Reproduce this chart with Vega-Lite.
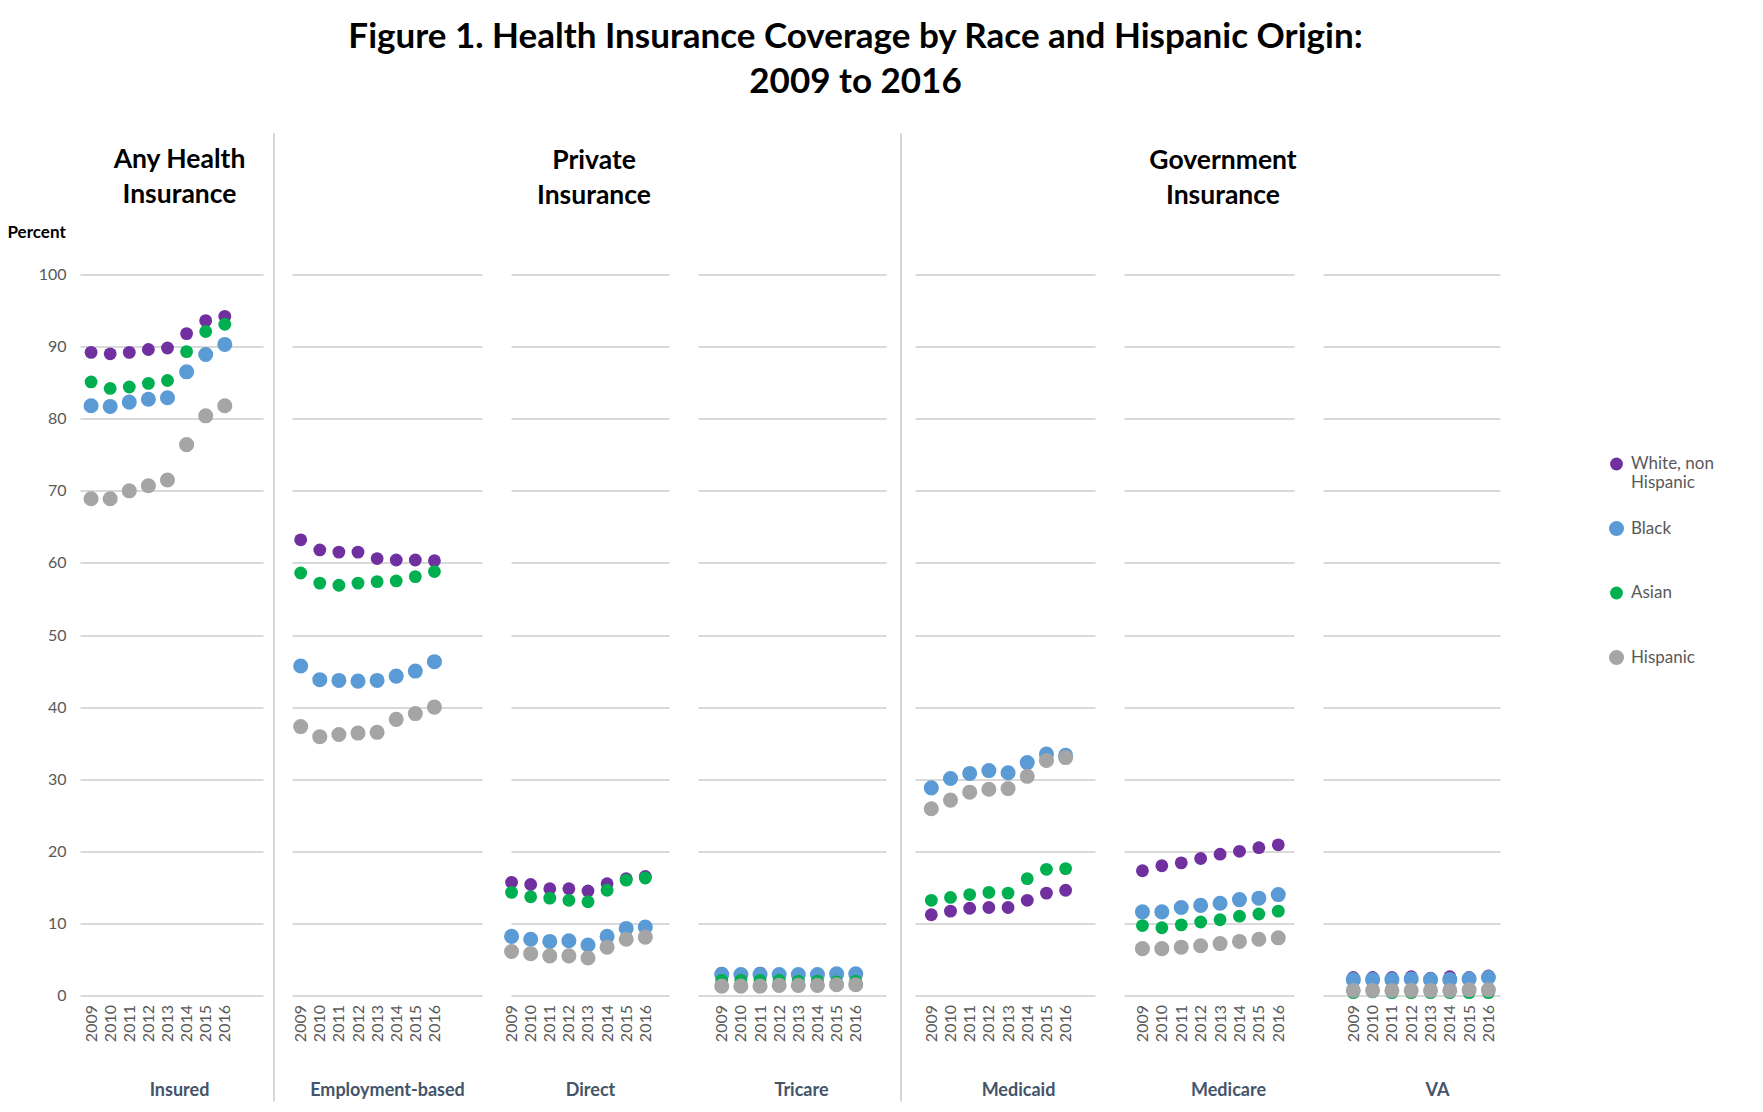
{
"$schema": "https://vega.github.io/schema/vega-lite/v6.json",
"padding": {"left": 7, "top": 19.5, "right": 5, "bottom": 5},
"autosize": {"type": "pad"},
"title": {"text": ["Figure 1. Health Insurance Coverage by Race and Hispanic Origin:", "2009 to 2016"], "fontSize": 35, "font": "Lato", "fontWeight": "bold", "color": "#000000", "lineHeight": 45, "anchor": "middle", "offset": 32, "dx": -5},
"data": {"values": [
{"type":"Insured","race":"White, non Hispanic","year":2009,"pct":89.2},{"type":"Insured","race":"White, non Hispanic","year":2010,"pct":89.0},{"type":"Insured","race":"White, non Hispanic","year":2011,"pct":89.2},{"type":"Insured","race":"White, non Hispanic","year":2012,"pct":89.6},{"type":"Insured","race":"White, non Hispanic","year":2013,"pct":89.8},{"type":"Insured","race":"White, non Hispanic","year":2014,"pct":91.8},{"type":"Insured","race":"White, non Hispanic","year":2015,"pct":93.6},{"type":"Insured","race":"White, non Hispanic","year":2016,"pct":94.2},
{"type":"Insured","race":"Black","year":2009,"pct":81.8},{"type":"Insured","race":"Black","year":2010,"pct":81.7},{"type":"Insured","race":"Black","year":2011,"pct":82.3},{"type":"Insured","race":"Black","year":2012,"pct":82.7},{"type":"Insured","race":"Black","year":2013,"pct":82.9},{"type":"Insured","race":"Black","year":2014,"pct":86.5},{"type":"Insured","race":"Black","year":2015,"pct":88.9},{"type":"Insured","race":"Black","year":2016,"pct":90.3},
{"type":"Insured","race":"Asian","year":2009,"pct":85.1},{"type":"Insured","race":"Asian","year":2010,"pct":84.2},{"type":"Insured","race":"Asian","year":2011,"pct":84.4},{"type":"Insured","race":"Asian","year":2012,"pct":84.9},{"type":"Insured","race":"Asian","year":2013,"pct":85.3},{"type":"Insured","race":"Asian","year":2014,"pct":89.3},{"type":"Insured","race":"Asian","year":2015,"pct":92.1},{"type":"Insured","race":"Asian","year":2016,"pct":93.1},
{"type":"Insured","race":"Hispanic","year":2009,"pct":68.9},{"type":"Insured","race":"Hispanic","year":2010,"pct":68.9},{"type":"Insured","race":"Hispanic","year":2011,"pct":70.0},{"type":"Insured","race":"Hispanic","year":2012,"pct":70.7},{"type":"Insured","race":"Hispanic","year":2013,"pct":71.5},{"type":"Insured","race":"Hispanic","year":2014,"pct":76.4},{"type":"Insured","race":"Hispanic","year":2015,"pct":80.4},{"type":"Insured","race":"Hispanic","year":2016,"pct":81.8},
{"type":"Employment-based","race":"White, non Hispanic","year":2009,"pct":63.2},{"type":"Employment-based","race":"White, non Hispanic","year":2010,"pct":61.8},{"type":"Employment-based","race":"White, non Hispanic","year":2011,"pct":61.5},{"type":"Employment-based","race":"White, non Hispanic","year":2012,"pct":61.5},{"type":"Employment-based","race":"White, non Hispanic","year":2013,"pct":60.6},{"type":"Employment-based","race":"White, non Hispanic","year":2014,"pct":60.4},{"type":"Employment-based","race":"White, non Hispanic","year":2015,"pct":60.4},{"type":"Employment-based","race":"White, non Hispanic","year":2016,"pct":60.3},
{"type":"Employment-based","race":"Black","year":2009,"pct":45.7},{"type":"Employment-based","race":"Black","year":2010,"pct":43.8},{"type":"Employment-based","race":"Black","year":2011,"pct":43.7},{"type":"Employment-based","race":"Black","year":2012,"pct":43.6},{"type":"Employment-based","race":"Black","year":2013,"pct":43.7},{"type":"Employment-based","race":"Black","year":2014,"pct":44.3},{"type":"Employment-based","race":"Black","year":2015,"pct":45.0},{"type":"Employment-based","race":"Black","year":2016,"pct":46.3},
{"type":"Employment-based","race":"Asian","year":2009,"pct":58.6},{"type":"Employment-based","race":"Asian","year":2010,"pct":57.2},{"type":"Employment-based","race":"Asian","year":2011,"pct":56.9},{"type":"Employment-based","race":"Asian","year":2012,"pct":57.2},{"type":"Employment-based","race":"Asian","year":2013,"pct":57.4},{"type":"Employment-based","race":"Asian","year":2014,"pct":57.5},{"type":"Employment-based","race":"Asian","year":2015,"pct":58.1},{"type":"Employment-based","race":"Asian","year":2016,"pct":58.8},
{"type":"Employment-based","race":"Hispanic","year":2009,"pct":37.3},{"type":"Employment-based","race":"Hispanic","year":2010,"pct":35.9},{"type":"Employment-based","race":"Hispanic","year":2011,"pct":36.2},{"type":"Employment-based","race":"Hispanic","year":2012,"pct":36.4},{"type":"Employment-based","race":"Hispanic","year":2013,"pct":36.5},{"type":"Employment-based","race":"Hispanic","year":2014,"pct":38.3},{"type":"Employment-based","race":"Hispanic","year":2015,"pct":39.1},{"type":"Employment-based","race":"Hispanic","year":2016,"pct":40.0},
{"type":"Direct","race":"White, non Hispanic","year":2009,"pct":15.7},{"type":"Direct","race":"White, non Hispanic","year":2010,"pct":15.4},{"type":"Direct","race":"White, non Hispanic","year":2011,"pct":14.8},{"type":"Direct","race":"White, non Hispanic","year":2012,"pct":14.8},{"type":"Direct","race":"White, non Hispanic","year":2013,"pct":14.5},{"type":"Direct","race":"White, non Hispanic","year":2014,"pct":15.5},{"type":"Direct","race":"White, non Hispanic","year":2015,"pct":16.2},{"type":"Direct","race":"White, non Hispanic","year":2016,"pct":16.5},
{"type":"Direct","race":"Black","year":2009,"pct":8.2},{"type":"Direct","race":"Black","year":2010,"pct":7.8},{"type":"Direct","race":"Black","year":2011,"pct":7.5},{"type":"Direct","race":"Black","year":2012,"pct":7.6},{"type":"Direct","race":"Black","year":2013,"pct":7.0},{"type":"Direct","race":"Black","year":2014,"pct":8.2},{"type":"Direct","race":"Black","year":2015,"pct":9.3},{"type":"Direct","race":"Black","year":2016,"pct":9.5},
{"type":"Direct","race":"Asian","year":2009,"pct":14.3},{"type":"Direct","race":"Asian","year":2010,"pct":13.7},{"type":"Direct","race":"Asian","year":2011,"pct":13.5},{"type":"Direct","race":"Asian","year":2012,"pct":13.2},{"type":"Direct","race":"Asian","year":2013,"pct":13.0},{"type":"Direct","race":"Asian","year":2014,"pct":14.6},{"type":"Direct","race":"Asian","year":2015,"pct":16.0},{"type":"Direct","race":"Asian","year":2016,"pct":16.3},
{"type":"Direct","race":"Hispanic","year":2009,"pct":6.1},{"type":"Direct","race":"Hispanic","year":2010,"pct":5.8},{"type":"Direct","race":"Hispanic","year":2011,"pct":5.5},{"type":"Direct","race":"Hispanic","year":2012,"pct":5.5},{"type":"Direct","race":"Hispanic","year":2013,"pct":5.2},{"type":"Direct","race":"Hispanic","year":2014,"pct":6.7},{"type":"Direct","race":"Hispanic","year":2015,"pct":7.8},{"type":"Direct","race":"Hispanic","year":2016,"pct":8.1},
{"type":"Tricare","race":"White, non Hispanic","year":2009,"pct":3.1},{"type":"Tricare","race":"White, non Hispanic","year":2010,"pct":2.8},{"type":"Tricare","race":"White, non Hispanic","year":2011,"pct":3.1},{"type":"Tricare","race":"White, non Hispanic","year":2012,"pct":2.9},{"type":"Tricare","race":"White, non Hispanic","year":2013,"pct":2.8},{"type":"Tricare","race":"White, non Hispanic","year":2014,"pct":2.9},{"type":"Tricare","race":"White, non Hispanic","year":2015,"pct":2.9},{"type":"Tricare","race":"White, non Hispanic","year":2016,"pct":3.0},
{"type":"Tricare","race":"Black","year":2009,"pct":2.9},{"type":"Tricare","race":"Black","year":2010,"pct":2.9},{"type":"Tricare","race":"Black","year":2011,"pct":2.9},{"type":"Tricare","race":"Black","year":2012,"pct":2.9},{"type":"Tricare","race":"Black","year":2013,"pct":2.9},{"type":"Tricare","race":"Black","year":2014,"pct":2.9},{"type":"Tricare","race":"Black","year":2015,"pct":3.0},{"type":"Tricare","race":"Black","year":2016,"pct":3.0},
{"type":"Tricare","race":"Asian","year":2009,"pct":2.1},{"type":"Tricare","race":"Asian","year":2010,"pct":2.1},{"type":"Tricare","race":"Asian","year":2011,"pct":2.1},{"type":"Tricare","race":"Asian","year":2012,"pct":2.1},{"type":"Tricare","race":"Asian","year":2013,"pct":2.0},{"type":"Tricare","race":"Asian","year":2014,"pct":2.0},{"type":"Tricare","race":"Asian","year":2015,"pct":1.9},{"type":"Tricare","race":"Asian","year":2016,"pct":2.0},
{"type":"Tricare","race":"Hispanic","year":2009,"pct":1.3},{"type":"Tricare","race":"Hispanic","year":2010,"pct":1.3},{"type":"Tricare","race":"Hispanic","year":2011,"pct":1.3},{"type":"Tricare","race":"Hispanic","year":2012,"pct":1.4},{"type":"Tricare","race":"Hispanic","year":2013,"pct":1.4},{"type":"Tricare","race":"Hispanic","year":2014,"pct":1.4},{"type":"Tricare","race":"Hispanic","year":2015,"pct":1.5},{"type":"Tricare","race":"Hispanic","year":2016,"pct":1.5},
{"type":"Medicaid","race":"White, non Hispanic","year":2009,"pct":11.2},{"type":"Medicaid","race":"White, non Hispanic","year":2010,"pct":11.7},{"type":"Medicaid","race":"White, non Hispanic","year":2011,"pct":12.1},{"type":"Medicaid","race":"White, non Hispanic","year":2012,"pct":12.2},{"type":"Medicaid","race":"White, non Hispanic","year":2013,"pct":12.2},{"type":"Medicaid","race":"White, non Hispanic","year":2014,"pct":13.2},{"type":"Medicaid","race":"White, non Hispanic","year":2015,"pct":14.2},{"type":"Medicaid","race":"White, non Hispanic","year":2016,"pct":14.6},
{"type":"Medicaid","race":"Black","year":2009,"pct":28.8},{"type":"Medicaid","race":"Black","year":2010,"pct":30.1},{"type":"Medicaid","race":"Black","year":2011,"pct":30.8},{"type":"Medicaid","race":"Black","year":2012,"pct":31.2},{"type":"Medicaid","race":"Black","year":2013,"pct":30.9},{"type":"Medicaid","race":"Black","year":2014,"pct":32.3},{"type":"Medicaid","race":"Black","year":2015,"pct":33.5},{"type":"Medicaid","race":"Black","year":2016,"pct":33.3},
{"type":"Medicaid","race":"Asian","year":2009,"pct":13.2},{"type":"Medicaid","race":"Asian","year":2010,"pct":13.6},{"type":"Medicaid","race":"Asian","year":2011,"pct":14.0},{"type":"Medicaid","race":"Asian","year":2012,"pct":14.3},{"type":"Medicaid","race":"Asian","year":2013,"pct":14.2},{"type":"Medicaid","race":"Asian","year":2014,"pct":16.2},{"type":"Medicaid","race":"Asian","year":2015,"pct":17.5},{"type":"Medicaid","race":"Asian","year":2016,"pct":17.6},
{"type":"Medicaid","race":"Hispanic","year":2009,"pct":25.9},{"type":"Medicaid","race":"Hispanic","year":2010,"pct":27.1},{"type":"Medicaid","race":"Hispanic","year":2011,"pct":28.2},{"type":"Medicaid","race":"Hispanic","year":2012,"pct":28.6},{"type":"Medicaid","race":"Hispanic","year":2013,"pct":28.7},{"type":"Medicaid","race":"Hispanic","year":2014,"pct":30.4},{"type":"Medicaid","race":"Hispanic","year":2015,"pct":32.6},{"type":"Medicaid","race":"Hispanic","year":2016,"pct":33.0},
{"type":"Medicare","race":"White, non Hispanic","year":2009,"pct":17.3},{"type":"Medicare","race":"White, non Hispanic","year":2010,"pct":18.0},{"type":"Medicare","race":"White, non Hispanic","year":2011,"pct":18.4},{"type":"Medicare","race":"White, non Hispanic","year":2012,"pct":19.0},{"type":"Medicare","race":"White, non Hispanic","year":2013,"pct":19.6},{"type":"Medicare","race":"White, non Hispanic","year":2014,"pct":20.0},{"type":"Medicare","race":"White, non Hispanic","year":2015,"pct":20.5},{"type":"Medicare","race":"White, non Hispanic","year":2016,"pct":20.9},
{"type":"Medicare","race":"Black","year":2009,"pct":11.6},{"type":"Medicare","race":"Black","year":2010,"pct":11.6},{"type":"Medicare","race":"Black","year":2011,"pct":12.2},{"type":"Medicare","race":"Black","year":2012,"pct":12.5},{"type":"Medicare","race":"Black","year":2013,"pct":12.8},{"type":"Medicare","race":"Black","year":2014,"pct":13.3},{"type":"Medicare","race":"Black","year":2015,"pct":13.5},{"type":"Medicare","race":"Black","year":2016,"pct":14.0},
{"type":"Medicare","race":"Asian","year":2009,"pct":9.7},{"type":"Medicare","race":"Asian","year":2010,"pct":9.4},{"type":"Medicare","race":"Asian","year":2011,"pct":9.8},{"type":"Medicare","race":"Asian","year":2012,"pct":10.2},{"type":"Medicare","race":"Asian","year":2013,"pct":10.5},{"type":"Medicare","race":"Asian","year":2014,"pct":11.0},{"type":"Medicare","race":"Asian","year":2015,"pct":11.3},{"type":"Medicare","race":"Asian","year":2016,"pct":11.7},
{"type":"Medicare","race":"Hispanic","year":2009,"pct":6.5},{"type":"Medicare","race":"Hispanic","year":2010,"pct":6.5},{"type":"Medicare","race":"Hispanic","year":2011,"pct":6.7},{"type":"Medicare","race":"Hispanic","year":2012,"pct":6.9},{"type":"Medicare","race":"Hispanic","year":2013,"pct":7.2},{"type":"Medicare","race":"Hispanic","year":2014,"pct":7.5},{"type":"Medicare","race":"Hispanic","year":2015,"pct":7.8},{"type":"Medicare","race":"Hispanic","year":2016,"pct":8.0},
{"type":"VA","race":"White, non Hispanic","year":2009,"pct":2.5},{"type":"VA","race":"White, non Hispanic","year":2010,"pct":2.5},{"type":"VA","race":"White, non Hispanic","year":2011,"pct":2.5},{"type":"VA","race":"White, non Hispanic","year":2012,"pct":2.6},{"type":"VA","race":"White, non Hispanic","year":2013,"pct":2.4},{"type":"VA","race":"White, non Hispanic","year":2014,"pct":2.6},{"type":"VA","race":"White, non Hispanic","year":2015,"pct":2.5},{"type":"VA","race":"White, non Hispanic","year":2016,"pct":2.7},
{"type":"VA","race":"Black","year":2009,"pct":2.2},{"type":"VA","race":"Black","year":2010,"pct":2.2},{"type":"VA","race":"Black","year":2011,"pct":2.2},{"type":"VA","race":"Black","year":2012,"pct":2.3},{"type":"VA","race":"Black","year":2013,"pct":2.2},{"type":"VA","race":"Black","year":2014,"pct":2.2},{"type":"VA","race":"Black","year":2015,"pct":2.3},{"type":"VA","race":"Black","year":2016,"pct":2.5},
{"type":"VA","race":"Asian","year":2009,"pct":0.4},{"type":"VA","race":"Asian","year":2010,"pct":0.5},{"type":"VA","race":"Asian","year":2011,"pct":0.4},{"type":"VA","race":"Asian","year":2012,"pct":0.4},{"type":"VA","race":"Asian","year":2013,"pct":0.4},{"type":"VA","race":"Asian","year":2014,"pct":0.4},{"type":"VA","race":"Asian","year":2015,"pct":0.4},{"type":"VA","race":"Asian","year":2016,"pct":0.4},
{"type":"VA","race":"Hispanic","year":2009,"pct":0.7},{"type":"VA","race":"Hispanic","year":2010,"pct":0.7},{"type":"VA","race":"Hispanic","year":2011,"pct":0.7},{"type":"VA","race":"Hispanic","year":2012,"pct":0.7},{"type":"VA","race":"Hispanic","year":2013,"pct":0.7},{"type":"VA","race":"Hispanic","year":2014,"pct":0.7},{"type":"VA","race":"Hispanic","year":2015,"pct":0.8},{"type":"VA","race":"Hispanic","year":2016,"pct":0.8}
]},
"spacing": 29,
"bounds": "flush",
"hconcat": [
{
 "width": 183, "height": 721,
 "title": {"text": ["Any Health", "Insurance"], "fontSize": 26.5, "lineHeight": 35, "fontWeight": "bold", "color": "#000000", "anchor": "middle", "offset": 15, "dx": 8},
 "transform": [{"filter": {"field": "type", "equal": "Insured"}}],
 "mark": {"type": "circle", "opacity": 1},
 "encoding": {
  "x": {"field": "year", "type": "quantitative", "scale": {"domain": [2008.42, 2018.0], "nice": false, "zero": false}, "axis": {"title": "Insured", "values": [2009,2010,2011,2012,2013,2014,2015,2016], "format": "d", "titleX": 99, "labelOverlap": false}},
  "y": {"field": "pct", "type": "quantitative", "scale": {"domain": [0, 100], "nice": false}, "axis": {"title": "Percent", "values": [0,10,20,30,40,50,60,70,80,90,100], "labelPadding": 14, "titleAngle": 0, "titleAlign": "left", "titleBaseline": "middle", "titleX": -73, "titleY": -42, "titleFontSize": 17, "titleFontWeight": "bold", "titleColor": "#000000"}},
  "color": {"field": "race", "type": "nominal", "scale": {"domain": ["White, non Hispanic", "Black", "Asian", "Hispanic"], "range": ["#7030A0", "#5B9BD5", "#00B050", "#A5A5A5"]}, "legend": {"title": null, "orient": "none", "legendX": 1528, "legendY": 181, "labelExpr": "datum.label == 'White, non Hispanic' ? ['White, non', 'Hispanic'] : [datum.label, '']", "encode": {"symbols": {"update": {"size": {"signal": "datum.value == 'Black' || datum.value == 'Hispanic' ? 95 : 66"}}}}}},
  "size": {"field": "race", "type": "nominal", "scale": {"type": "ordinal", "domain": ["White, non Hispanic", "Black", "Asian", "Hispanic"], "range": [165, 227, 165, 227]}, "legend": null}
 }
},
{
 "width": 190, "height": 721,
 "resolve": {"scale": {"x": "independent", "y": "independent"}, "axis": {"x": "independent", "y": "independent"}},
 "layer": [
 {
  "transform": [{"filter": {"field": "type", "equal": "Employment-based"}}],
  "mark": {"type": "circle", "opacity": 1},
  "encoding": {
   "x": {"field": "year", "type": "quantitative", "scale": {"domain": [2008.545, 2018.49], "nice": false, "zero": false}, "axis": {"title": "Employment-based", "values": [2009,2010,2011,2012,2013,2014,2015,2016], "format": "d", "labelOverlap": false}},
   "y": {"field": "pct", "type": "quantitative", "scale": {"domain": [0, 100], "nice": false}, "axis": {"title": null, "labels": false, "values": [0,10,20,30,40,50,60,70,80,90,100]}},
   "color": {"field": "race", "type": "nominal", "scale": {"domain": ["White, non Hispanic", "Black", "Asian", "Hispanic"], "range": ["#7030A0", "#5B9BD5", "#00B050", "#A5A5A5"]}},
   "size": {"field": "race", "type": "nominal", "scale": {"type": "ordinal", "domain": ["White, non Hispanic", "Black", "Asian", "Hispanic"], "range": [165, 227, 165, 227]}, "legend": null}
  }
 },
 {
  "data": {"values": [{}]},
  "mark": {"type": "rule", "color": "#C8C8C8", "strokeWidth": 1.5},
  "encoding": {"x": {"datum": 2007.6, "type": "quantitative", "scale": {"domain": [2008.545, 2018.49], "nice": false, "zero": false}, "axis": null}, "y": {"datum": 119.6, "type": "quantitative", "scale": {"domain": [0, 100], "nice": false}, "axis": null}, "y2": {"datum": -14.7}}
 }
 ]
},
{
 "width": 158, "height": 721,
 "title": {"text": ["Private", "Insurance"], "fontSize": 26.5, "lineHeight": 35, "fontWeight": "bold", "color": "#000000", "anchor": "middle", "offset": 65, "dx": 4},
 "transform": [{"filter": {"field": "type", "equal": "Direct"}}],
 "mark": {"type": "circle", "opacity": 1},
 "encoding": {
  "x": {"field": "year", "type": "quantitative", "scale": {"domain": [2008.97, 2017.24], "nice": false, "zero": false}, "axis": {"title": "Direct", "values": [2009,2010,2011,2012,2013,2014,2015,2016], "format": "d", "labelOverlap": false}},
  "y": {"field": "pct", "type": "quantitative", "scale": {"domain": [0, 100], "nice": false}, "axis": {"title": null, "labels": false, "values": [0,10,20,30,40,50,60,70,80,90,100]}},
  "color": {"field": "race", "type": "nominal", "scale": {"domain": ["White, non Hispanic", "Black", "Asian", "Hispanic"], "range": ["#7030A0", "#5B9BD5", "#00B050", "#A5A5A5"]}},
  "size": {"field": "race", "type": "nominal", "scale": {"type": "ordinal", "domain": ["White, non Hispanic", "Black", "Asian", "Hispanic"], "range": [165, 227, 165, 227]}, "legend": null}
 }
},
{
 "width": 188, "height": 721,
 "transform": [{"filter": {"field": "type", "equal": "Tricare"}}],
 "mark": {"type": "circle", "opacity": 1},
 "encoding": {
  "x": {"field": "year", "type": "quantitative", "scale": {"domain": [2007.76, 2017.58], "nice": false, "zero": false}, "axis": {"title": "Tricare", "values": [2009,2010,2011,2012,2013,2014,2015,2016], "format": "d", "titleX": 103, "labelOverlap": false}},
  "y": {"field": "pct", "type": "quantitative", "scale": {"domain": [0, 100], "nice": false}, "axis": {"title": null, "labels": false, "values": [0,10,20,30,40,50,60,70,80,90,100]}},
  "color": {"field": "race", "type": "nominal", "scale": {"domain": ["White, non Hispanic", "Black", "Asian", "Hispanic"], "range": ["#7030A0", "#5B9BD5", "#00B050", "#A5A5A5"]}},
  "size": {"field": "race", "type": "nominal", "scale": {"type": "ordinal", "domain": ["White, non Hispanic", "Black", "Asian", "Hispanic"], "range": [165, 227, 165, 227]}, "legend": null}
 }
},
{
 "width": 180, "height": 721,
 "resolve": {"scale": {"x": "independent", "y": "independent"}, "axis": {"x": "independent", "y": "independent"}},
 "layer": [
 {
  "transform": [{"filter": {"field": "type", "equal": "Medicaid"}}],
  "mark": {"type": "circle", "opacity": 1},
  "encoding": {
   "x": {"field": "year", "type": "quantitative", "scale": {"domain": [2008.15, 2017.53], "nice": false, "zero": false}, "axis": {"title": "Medicaid", "values": [2009,2010,2011,2012,2013,2014,2015,2016], "format": "d", "titleX": 103, "labelOverlap": false}},
   "y": {"field": "pct", "type": "quantitative", "scale": {"domain": [0, 100], "nice": false}, "axis": {"title": null, "labels": false, "values": [0,10,20,30,40,50,60,70,80,90,100]}},
   "color": {"field": "race", "type": "nominal", "scale": {"domain": ["White, non Hispanic", "Black", "Asian", "Hispanic"], "range": ["#7030A0", "#5B9BD5", "#00B050", "#A5A5A5"]}},
   "size": {"field": "race", "type": "nominal", "scale": {"type": "ordinal", "domain": ["White, non Hispanic", "Black", "Asian", "Hispanic"], "range": [165, 227, 165, 227]}, "legend": null}
  }
 },
 {
  "data": {"values": [{}]},
  "mark": {"type": "rule", "color": "#C8C8C8", "strokeWidth": 1.5},
  "encoding": {"x": {"datum": 2007.42, "type": "quantitative", "scale": {"domain": [2008.15, 2017.53], "nice": false, "zero": false}, "axis": null}, "y": {"datum": 119.6, "type": "quantitative", "scale": {"domain": [0, 100], "nice": false}, "axis": null}, "y2": {"datum": -14.7}}
 }
 ]
},
{
 "width": 170, "height": 721,
 "title": {"text": ["Government", "Insurance"], "fontSize": 26.5, "lineHeight": 35, "fontWeight": "bold", "color": "#000000", "anchor": "middle", "offset": 65, "dx": 14},
 "transform": [{"filter": {"field": "type", "equal": "Medicare"}}],
 "mark": {"type": "circle", "opacity": 1},
 "encoding": {
  "x": {"field": "year", "type": "quantitative", "scale": {"domain": [2008.05, 2016.81], "nice": false, "zero": false}, "axis": {"title": "Medicare", "values": [2009,2010,2011,2012,2013,2014,2015,2016], "format": "d", "titleX": 104, "labelOverlap": false}},
  "y": {"field": "pct", "type": "quantitative", "scale": {"domain": [0, 100], "nice": false}, "axis": {"title": null, "labels": false, "values": [0,10,20,30,40,50,60,70,80,90,100]}},
  "color": {"field": "race", "type": "nominal", "scale": {"domain": ["White, non Hispanic", "Black", "Asian", "Hispanic"], "range": ["#7030A0", "#5B9BD5", "#00B050", "#A5A5A5"]}},
  "size": {"field": "race", "type": "nominal", "scale": {"type": "ordinal", "domain": ["White, non Hispanic", "Black", "Asian", "Hispanic"], "range": [165, 227, 165, 227]}, "legend": null}
 }
},
{
 "width": 177, "height": 721,
 "transform": [{"filter": {"field": "type", "equal": "VA"}}],
 "mark": {"type": "circle", "opacity": 1},
 "encoding": {
  "x": {"field": "year", "type": "quantitative", "scale": {"domain": [2007.43, 2016.60], "nice": false, "zero": false}, "axis": {"title": "VA", "values": [2009,2010,2011,2012,2013,2014,2015,2016], "format": "d", "titleX": 114, "labelOverlap": false}},
  "y": {"field": "pct", "type": "quantitative", "scale": {"domain": [0, 100], "nice": false}, "axis": {"title": null, "labels": false, "values": [0,10,20,30,40,50,60,70,80,90,100]}},
  "color": {"field": "race", "type": "nominal", "scale": {"domain": ["White, non Hispanic", "Black", "Asian", "Hispanic"], "range": ["#7030A0", "#5B9BD5", "#00B050", "#A5A5A5"]}},
  "size": {"field": "race", "type": "nominal", "scale": {"type": "ordinal", "domain": ["White, non Hispanic", "Black", "Asian", "Hispanic"], "range": [165, 227, 165, 227]}, "legend": null}
 }
}
],
"config": {
 "font": "Lato",
 "view": {"stroke": null},
 "axis": {"domain": false, "ticks": false, "labelFont": "Lato", "labelFontSize": 16, "labelColor": "#595959", "titleFont": "Lato"},
 "axisX": {"grid": false, "labelAngle": -90, "labelPadding": 9, "labelOverlap": false, "titleFontSize": 18, "titleFontWeight": "bold", "titleColor": "#44546A", "titleY": 95, "titleBaseline": "middle"},
 "axisY": {"grid": true, "gridColor": "#D9D9D9", "gridWidth": 2},
 "legend": {"labelFont": "Lato", "labelFontSize": 17, "labelColor": "#595959", "symbolType": "circle", "rowPadding": 27.5, "labelOffset": 6, "padding": 0, "labelLimit": 200}
}
}
